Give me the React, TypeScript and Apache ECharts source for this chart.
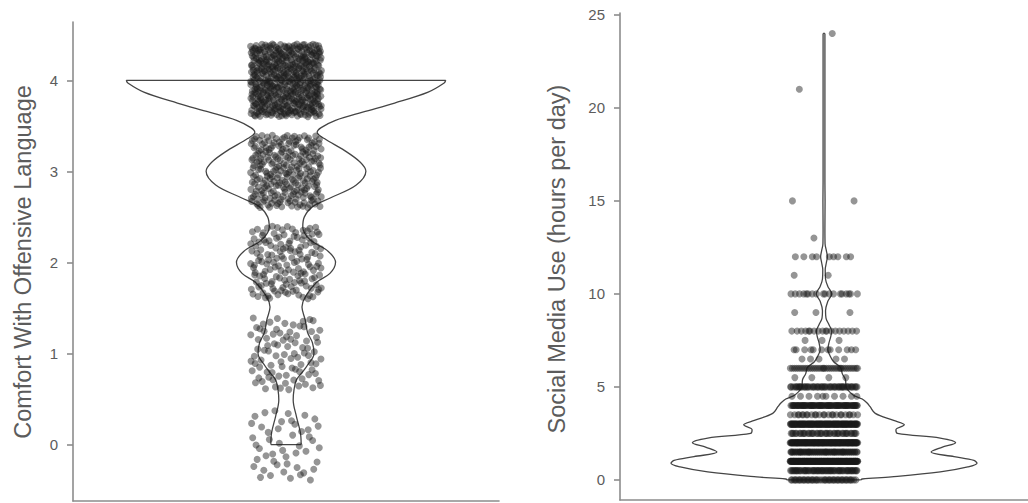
import React, { useEffect, useRef } from "react";
import * as echarts from "echarts";

// ---------- texts ----------
const LEFT_TITLE = "Comfort With Offensive Language";
const RIGHT_TITLE = "Social Media Use (hours per day)";
const LEFT_TICKS = [0, 1, 2, 3, 4];
const RIGHT_TICKS = [0, 5, 10, 15, 20, 25];

// ---------- left panel: comfort (answer levels and number of respondents) ----------
const COMFORT_LEVELS = [0, 1, 2, 3, 4];
const COMFORT_COUNTS = [48, 88, 150, 250, 500];

// violin outline: value and relative half-width (1 = widest)
const COMFORT_VIOLIN_Y = [0.0, 0.13, 0.31, 0.49, 0.6, 0.71, 0.79, 0.86, 1.0, 1.12, 1.23, 1.37, 1.51, 1.62, 1.78, 1.88, 2.0, 2.12, 2.25, 2.39, 2.5, 2.61, 2.71, 2.85, 3.0, 3.1, 3.23, 3.36, 3.43, 3.48, 3.56, 3.65, 3.75, 3.87, 3.97, 4.0];
const COMFORT_VIOLIN_W = [0.095, 0.09, 0.065, 0.045, 0.05, 0.065, 0.1, 0.13, 0.175, 0.165, 0.135, 0.12, 0.1, 0.12, 0.19, 0.275, 0.31, 0.265, 0.15, 0.105, 0.115, 0.165, 0.28, 0.44, 0.5, 0.465, 0.365, 0.24, 0.195, 0.22, 0.31, 0.48, 0.68, 0.89, 0.99, 1.0];

// ---------- right panel: social media hours ----------
const HOURS_LEVELS = [0, 0.5, 1, 1.5, 2, 2.5, 3, 3.5, 4, 4.5, 5, 5.5, 6, 6.5, 7, 7.5, 8, 9, 10, 11, 12, 13, 15, 21, 24];
const HOURS_COUNTS = [45, 60, 200, 70, 170, 40, 120, 25, 80, 10, 50, 4, 35, 5, 12, 3, 18, 3, 18, 2, 9, 1, 2, 1, 1];

const HOURS_VIOLIN_Y = [0.0, 0.05, 0.16, 0.43, 0.7, 0.9, 1.05, 1.25, 1.5, 1.75, 2.0, 2.25, 2.5, 2.7, 2.96, 3.2, 3.58, 3.95, 4.15, 4.35, 4.57, 5.0, 5.4, 5.7, 6.05, 6.35, 6.7, 7.0, 7.35, 7.7, 8.0, 8.35, 8.7, 9.1, 9.6, 10.0, 10.4, 10.8, 11.3, 11.7, 12.0, 12.3, 12.7, 13.5, 15.0, 16.0, 21.0, 24.0];
const HOURS_VIOLIN_W = [0.24, 0.25, 0.44, 0.76, 0.94, 1.0, 0.98, 0.85, 0.7, 0.77, 0.86, 0.76, 0.48, 0.47, 0.525, 0.455, 0.335, 0.3, 0.28, 0.25, 0.19, 0.145, 0.14, 0.12, 0.108, 0.063, 0.038, 0.025, 0.032, 0.044, 0.05, 0.032, 0.013, 0.01, 0.025, 0.05, 0.025, 0.01, 0.008, 0.016, 0.022, 0.016, 0.007, 0.006, 0.007, 0.006, 0.006, 0.006];

// ---------- layout constants ----------
const HALF_WIDTH = 0.45; // violin half width in x units
const JITTER_W = 0.1;
const JITTER_H_LEFT = 0.4;
const POINT_COLOR = "rgba(25,25,25,0.58)";
const POINT_SIZE = 7;
const LINE_COLOR = "#454545";
const AXIS_COLOR = "#8c8c8c";
const TEXT_COLOR = "#5c5c5c";
const FONT = '"Liberation Sans", Arial, Helvetica, sans-serif';

// radical inverse (Halton sequence) used only to spread the jitter display offsets
function halton(i: number, base: number) {
  let f = 1;
  let r = 0;
  while (i > 0) {
    f /= base;
    r += f * (i % base);
    i = Math.floor(i / base);
  }
  return r;
}

function jitterPoints(levels: number[], counts: number[], jw: number, jh: number) {
  const pts: number[][] = [];
  levels.forEach((v, k) => {
    const start = 1 + k * 53;
    for (let i = 0; i < counts[k]; i++) {
      const u = halton(start + i, 2);
      const w = halton(start + i, 3);
      pts.push([1 + (2 * u - 1) * jw, v + (2 * w - 1) * jh]);
    }
  });
  return pts;
}

function violinSeries(ys: number[], ws: number[], idx: number) {
  const left = ys.map((y, i) => [1 - ws[i] * HALF_WIDTH, y]);
  const right = ys.map((y, i) => [1 + ws[i] * HALF_WIDTH, y]);
  const n = ys.length - 1;
  const top = [[1 - ws[n] * HALF_WIDTH, ys[n]], [1 + ws[n] * HALF_WIDTH, ys[n]]];
  const bottom = [[1 - ws[0] * HALF_WIDTH, ys[0]], [1 + ws[0] * HALF_WIDTH, ys[0]]];
  const base = {
    type: "line",
    xAxisIndex: idx,
    yAxisIndex: idx,
    symbol: "none",
    silent: true,
    z: 2,
    lineStyle: { color: LINE_COLOR, width: 1.3 },
  };
  return [
    { ...base, data: left, smooth: 0.35 },
    { ...base, data: right, smooth: 0.35 },
    { ...base, data: top },
    { ...base, data: bottom },
  ];
}

function yAxisCfg(gridIndex: number, min: number, max: number, ticks: number[]) {
  return {
    type: "value",
    gridIndex,
    min,
    max,
    axisLine: { show: true, onZero: false, lineStyle: { color: AXIS_COLOR, width: 1.6 } },
    axisTick: { show: true, length: 6, customValues: ticks, lineStyle: { color: AXIS_COLOR, width: 1.6 } },
    axisLabel: { show: true, customValues: ticks, margin: 15, color: TEXT_COLOR, fontSize: 15, fontFamily: FONT },
    splitLine: { show: false },
  };
}

function xAxisCfg(gridIndex: number) {
  return {
    type: "value",
    gridIndex,
    min: 0.4,
    max: 1.6,
    axisLine: { show: true, onZero: false, lineStyle: { color: AXIS_COLOR, width: 1.6 } },
    axisTick: { show: false },
    axisLabel: { show: false },
    splitLine: { show: false },
  };
}

export default function App() {
  const ref = useRef<HTMLDivElement>(null);
  useEffect(() => {
    if (!ref.current) return;
    const chart = echarts.init(ref.current, null, { renderer: "svg" });
    const leftPts = jitterPoints(COMFORT_LEVELS, COMFORT_COUNTS, JITTER_W, JITTER_H_LEFT);
    const rightPts = jitterPoints(HOURS_LEVELS, HOURS_COUNTS, JITTER_W, 0);
    chart.setOption({
      animation: false,
      backgroundColor: "#ffffff",
      grid: [
        { left: 73, top: 22, width: 426, height: 479 },
        { left: 620, top: 13, width: 420, height: 487 },
      ],
      xAxis: [xAxisCfg(0), xAxisCfg(1)],
      yAxis: [yAxisCfg(0, -0.62, 4.64, LEFT_TICKS), yAxisCfg(1, -1.08, 25.1, RIGHT_TICKS)],
      graphic: [
        {
          type: "text",
          x: 23,
          y: 262,
          rotation: Math.PI / 2,
          style: { text: LEFT_TITLE, font: `23.5px ${FONT}`, fill: TEXT_COLOR, align: "center", verticalAlign: "middle" },
        },
        {
          type: "text",
          x: 557,
          y: 259,
          rotation: Math.PI / 2,
          style: { text: RIGHT_TITLE, font: `23.5px ${FONT}`, fill: TEXT_COLOR, align: "center", verticalAlign: "middle" },
        },
      ],
      series: [
        ...violinSeries(COMFORT_VIOLIN_Y, COMFORT_VIOLIN_W, 0),
        ...violinSeries(HOURS_VIOLIN_Y, HOURS_VIOLIN_W, 1),
        {
          type: "scatter",
          xAxisIndex: 0,
          yAxisIndex: 0,
          data: leftPts,
          symbolSize: POINT_SIZE,
          silent: true,
          z: 3,
          itemStyle: { color: POINT_COLOR },
        },
        {
          type: "scatter",
          xAxisIndex: 1,
          yAxisIndex: 1,
          data: rightPts,
          symbolSize: POINT_SIZE,
          silent: true,
          z: 3,
          itemStyle: { color: POINT_COLOR },
        },
      ],
    });
    return () => chart.dispose();
  }, []);
  return <div ref={ref} style={{ position: "absolute", left: 0, top: 0, width: 1028, height: 503 }} />;
}
